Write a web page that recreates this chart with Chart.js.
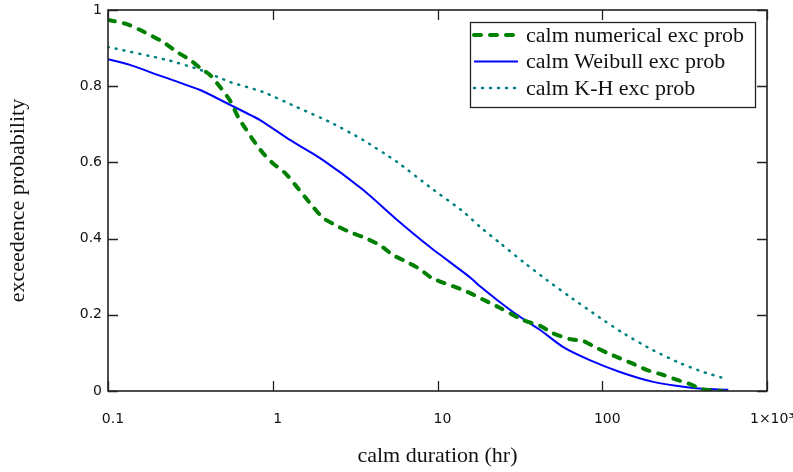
<!DOCTYPE html>
<html>
<head>
<meta charset="utf-8">
<script src="https://cdn.jsdelivr.net/npm/chart.js@4.4.1/dist/chart.umd.min.js"></script>
<style>
  html, body { margin: 0; padding: 0; background: #fff; }
</style>
</head>
<body>
<canvas id="chart" width="793" height="472"></canvas>
<script>
// calm numerical exceedence probability
const numX = [0.1, 0.13, 0.156, 0.216, 0.262, 0.315, 0.362, 0.417, 0.479, 0.551, 0.616, 0.68, 0.76, 0.87, 1.0,
  1.19, 1.37, 1.57, 1.76, 2.02, 2.46, 2.94, 3.53, 4.47, 5.36, 6.5, 7.8, 9.2, 13.7, 15.8, 18.9, 24, 33.1, 42, 50,
  63.8, 77, 88, 107, 123, 151, 187, 235, 285, 342, 393, 450, 530];
const numY = [0.974, 0.963, 0.948, 0.916, 0.89, 0.869, 0.848, 0.829, 0.798, 0.762, 0.719, 0.69, 0.659, 0.625, 0.598,
  0.572, 0.541, 0.509, 0.483, 0.454, 0.433, 0.417, 0.404, 0.383, 0.357, 0.339, 0.32, 0.297, 0.268, 0.257, 0.24, 0.218,
  0.186, 0.171, 0.152, 0.136, 0.131, 0.118, 0.1, 0.089, 0.073, 0.055, 0.042, 0.029, 0.018, 0.006, 0.002, 0];

// calm Weibull exceedence probability
const weibX = [0.1, 0.136, 0.18, 0.362, 0.551, 0.837, 1.27, 2.02, 3.53, 5.69, 9.0, 15.8, 18.2, 23, 30.4, 42, 58,
  84, 128, 204, 327, 450, 582];
const weibY = [0.871, 0.856, 0.837, 0.79, 0.751, 0.711, 0.659, 0.606, 0.528, 0.449, 0.378, 0.298, 0.274, 0.239, 0.2,
  0.16, 0.115, 0.081, 0.05, 0.024, 0.01, 0.005, 0.003];

// calm K-H exceedence probability
const khX = [0.1, 0.228, 0.362, 0.551, 0.87, 1.4, 2.22, 3.53, 5.69, 9.0, 14.4, 18.2, 24, 33.1, 46.2, 63.8, 97,
  134, 201, 297, 410, 573];
const khY = [0.903, 0.869, 0.843, 0.811, 0.785, 0.745, 0.706, 0.659, 0.601, 0.535, 0.47, 0.43, 0.388, 0.339, 0.291,
  0.247, 0.192, 0.152, 0.108, 0.073, 0.05, 0.031];

const xTickVals = [0.1, 1, 10, 100, 1000];
const xTickLabels = ["0.1", "1", "10", "100", "1\u00d710\u00b3"];
const yTickVals = [0, 0.2, 0.4, 0.6, 0.8, 1];
const yTickLabels = ["0", "0.2", "0.4", "0.6", "0.8", "1"];

function pairs(xs, ys) {
  return xs.map((x, i) => ({ x: x, y: ys[i] }));
}

const tickFont = { family: "DejaVu Sans", size: 14 };
const serifFont = { family: "Liberation Serif", size: 22 };

// box round the plot with inward ticks on all four sides
const framePlugin = {
  id: "frame",
  afterDatasetsDraw(chart) {
    const { ctx, chartArea: a, scales } = chart;
    ctx.save();
    ctx.strokeStyle = "#222";
    ctx.lineWidth = 1.6;
    ctx.strokeRect(a.left, a.top, a.right - a.left, a.bottom - a.top);
    ctx.lineWidth = 1.3;
    ctx.beginPath();
    xTickVals.forEach((v) => {
      const px = Math.round(scales.x.getPixelForValue(v)) + 0.5;
      ctx.moveTo(px, a.bottom);
      ctx.lineTo(px, a.bottom - 10);
      ctx.moveTo(px, a.top);
      ctx.lineTo(px, a.top + 10);
    });
    yTickVals.forEach((v) => {
      const py = Math.round(scales.y.getPixelForValue(v)) + 0.5;
      ctx.moveTo(a.left, py);
      ctx.lineTo(a.left + 10, py);
      ctx.moveTo(a.right, py);
      ctx.lineTo(a.right - 10, py);
    });
    ctx.stroke();
    ctx.restore();
  },
};

// legend in a bordered box at the top right of the plot
const legendBoxPlugin = {
  id: "legendBox",
  afterDraw(chart) {
    const ctx = chart.ctx;
    const a = chart.chartArea;
    const boxL = a.right - 297, boxT = a.top + 12, boxW = 285, boxH = 85;
    ctx.save();
    ctx.fillStyle = "#fff";
    ctx.fillRect(boxL, boxT, boxW, boxH);
    ctx.strokeStyle = "#222";
    ctx.lineWidth = 1.3;
    ctx.strokeRect(boxL + 0.5, boxT + 0.5, boxW, boxH);
    chart.data.datasets.forEach((ds, i) => {
      const y = boxT + 13 + i * 26.5;
      ctx.beginPath();
      ctx.strokeStyle = ds.borderColor;
      ctx.lineWidth = ds.borderWidth;
      ctx.setLineDash(ds.borderDash || []);
      ctx.lineCap = ds.borderCapStyle || "butt";
      ctx.moveTo(boxL + 4, y);
      ctx.lineTo(boxL + 48, y);
      ctx.stroke();
      ctx.setLineDash([]);
      ctx.fillStyle = "#111";
      ctx.font = serifFont.size + "px " + serifFont.family;
      ctx.textBaseline = "middle";
      ctx.fillText(ds.label, boxL + 56, y + 1);
    });
    ctx.restore();
  },
};

new Chart(document.getElementById("chart"), {
  type: "line",
  data: {
    datasets: [
      {
        label: "calm numerical exc prob",
        data: pairs(numX, numY),
        borderColor: "#008000",
        borderWidth: 4,
        borderDash: [7, 9],
        borderCapStyle: "round",
        pointRadius: 0,
        tension: 0.2,
      },
      {
        label: "calm Weibull exc prob",
        data: pairs(weibX, weibY),
        borderColor: "#0000ff",
        borderWidth: 2,
        pointRadius: 0,
        tension: 0.2,
      },
      {
        label: "calm K-H exc prob",
        data: pairs(khX, khY),
        borderColor: "#008080",
        borderWidth: 2.5,
        borderDash: [1, 7],
        borderCapStyle: "round",
        pointRadius: 0,
        tension: 0.2,
      },
    ],
  },
  options: {
    responsive: false,
    animation: false,
    layout: { padding: { top: 10, right: 26, left: 0, bottom: 0 } },
    plugins: {
      legend: { display: false },
      tooltip: { enabled: false },
    },
    scales: {
      x: {
        type: "logarithmic",
        min: 0.1,
        max: 1000,
        afterBuildTicks: (s) => {
          s.ticks = xTickVals.map((v) => ({ value: v }));
        },
        afterFit: (s) => {
          s.height = 81;
          s.paddingLeft = 0;
          s.paddingRight = 0;
        },
        grid: { display: false, drawTicks: false },
        border: { display: false },
        ticks: {
          callback: (value, index) => xTickLabels[index],
          font: tickFont,
          color: "#111",
          padding: 20,
          labelOffset: 5,
          maxRotation: 0,
          autoSkip: false,
        },
        title: {
          display: true,
          text: "calm duration (hr)",
          font: serifFont,
          color: "#111",
          padding: { top: 0, bottom: 3 },
        },
      },
      y: {
        type: "linear",
        min: 0,
        max: 1,
        afterBuildTicks: (s) => {
          s.ticks = yTickVals.map((v) => ({ value: v }));
        },
        afterFit: (s) => {
          s.width = 108;
          s.paddingTop = 0;
          s.paddingBottom = 0;
        },
        grid: { display: false, drawTicks: false },
        border: { display: false },
        ticks: {
          callback: (value, index) => yTickLabels[index],
          font: tickFont,
          color: "#111",
          padding: 6,
        },
        title: {
          display: true,
          text: "exceedence probability",
          font: serifFont,
          color: "#111",
          padding: { top: 5, bottom: 0 },
        },
      },
    },
  },
  plugins: [framePlugin, legendBoxPlugin],
});
</script>
</body>
</html>
